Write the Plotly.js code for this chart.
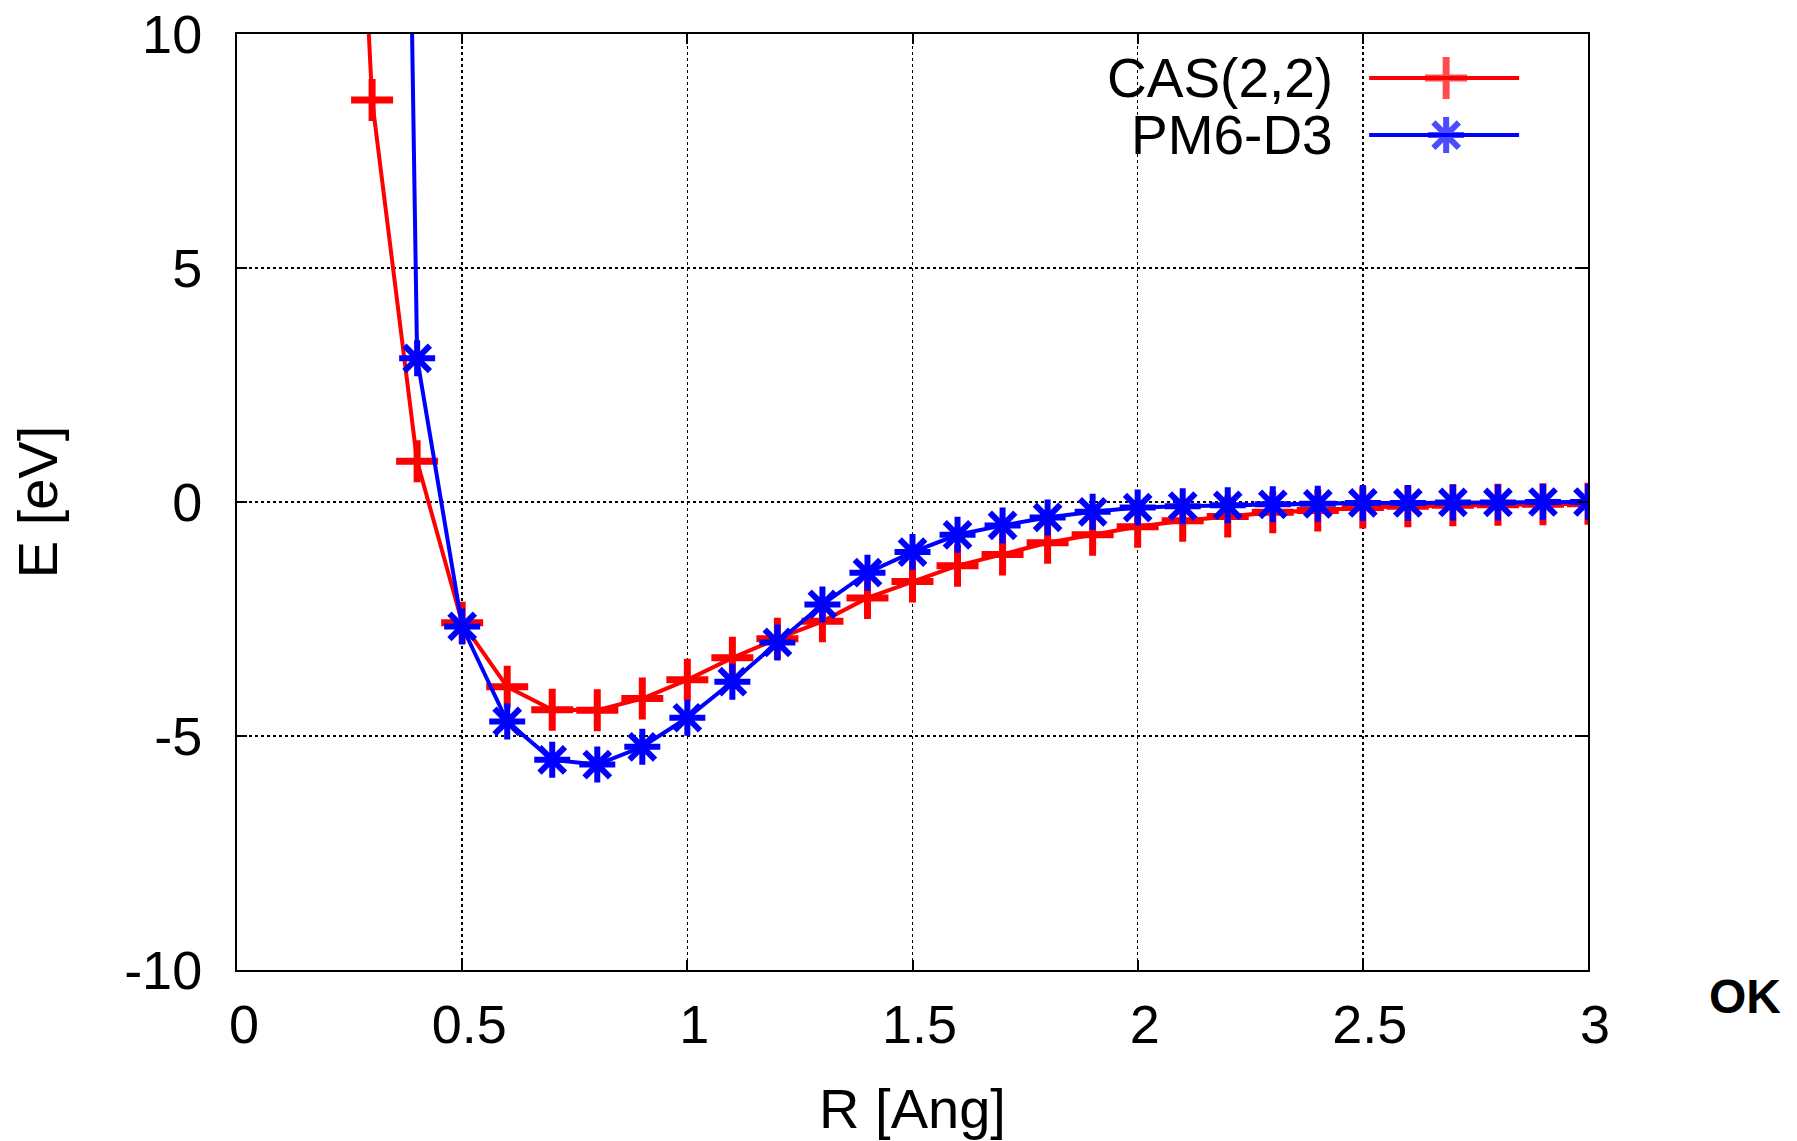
<!DOCTYPE html>
<html>
<head>
<meta charset="utf-8">
<script src="https://cdn.plot.ly/plotly-3.0.1.min.js"></script>
<style>html,body{margin:0;padding:0;background:#fff;}#chart{width:1797px;height:1141px;}</style>
</head>
<body>
<div id="chart"></div>
<script>
// ---- data ----
const R_cas = [0.2,0.3,0.4,0.5,0.6,0.7,0.8,0.9,1.0,1.1,1.2,1.3,1.4,1.5,1.6,1.7,1.8,1.9,2.0,2.1,2.2,2.3,2.4,2.5,2.6,2.7,2.8,2.9,3.0];
const E_cas = [28,8.59,0.87,-2.58,-3.95,-4.44,-4.45,-4.20,-3.80,-3.33,-2.92,-2.55,-2.05,-1.70,-1.36,-1.12,-0.87,-0.70,-0.53,-0.40,-0.31,-0.22,-0.18,-0.12,-0.09,-0.07,-0.06,-0.05,-0.04];
const R_pm6 = [0.3,0.4,0.5,0.6,0.7,0.8,0.9,1.0,1.1,1.2,1.3,1.4,1.5,1.6,1.7,1.8,1.9,2.0,2.1,2.2,2.3,2.4,2.5,2.6,2.7,2.8,2.9,3.0];
const E_pm6 = [65,3.07,-2.66,-4.69,-5.51,-5.61,-5.23,-4.61,-3.84,-3.00,-2.19,-1.51,-1.07,-0.70,-0.50,-0.33,-0.21,-0.12,-0.09,-0.07,-0.05,-0.04,-0.02,-0.02,-0.01,-0.01,0,0];
const seriesNames = ["CAS(2,2)","PM6-D3"];
const xTicks = [0,0.5,1,1.5,2,2.5,3];
const xTickText = ["0","0.5","1","1.5","2","2.5","3"];
const yTicks = [-10,-5,0,5,10];
const yTickText = ["-10","-5","0","5","10"];

const RED = "#ff0000", BLUE = "#0000ff";
const FONT = "Liberation Sans, Arial, sans-serif";

// legend sample geometry (on hidden overlay axes spanning the plot area 0..1)
const legX = [0.838, 0.895, 0.949];
const legY = [0.953, 0.892];

const crossMarker = {symbol:"cross-thin-open", size:30, color:RED, line:{color:RED, width:7}};
const starMarker = {symbol:"asterisk-open", size:30, color:BLUE, line:{color:BLUE, width:6}};

const traces = [
  {x:R_cas, y:E_cas, name:seriesNames[0], mode:"lines+markers", showlegend:false,
   line:{color:RED, width:4}, marker:crossMarker},
  {x:R_pm6, y:E_pm6, name:seriesNames[1], mode:"lines+markers", showlegend:false,
   line:{color:BLUE, width:4}, marker:starMarker},
  // manual legend samples (text left, sample right, as in the reference)
  {x:legX, y:[legY[0],legY[0],legY[0]], xaxis:"x2", yaxis:"y2", mode:"lines+markers", showlegend:false, hoverinfo:"skip",
   line:{color:RED, width:4}, marker:Object.assign({}, crossMarker, {size:[0,30,0]})},
  {x:legX, y:[legY[1],legY[1],legY[1]], xaxis:"x2", yaxis:"y2", mode:"lines+markers", showlegend:false, hoverinfo:"skip",
   line:{color:BLUE, width:4}, marker:Object.assign({}, starMarker, {size:[0,30,0]})}
];

const axisCommon = {
  showline:true, linecolor:"#000", linewidth:2, mirror:"ticks",
  ticks:"inside", ticklen:10, tickwidth:2, tickcolor:"#000",
  showgrid:true, gridcolor:"#000", gridwidth:1.5, griddash:"3px,3px",
  zeroline:false, tickfont:{family:FONT, size:54, color:"#000"}
};

const layout = {
  width:1797, height:1141,
  margin:{l:237, r:209, t:34, b:171},
  paper_bgcolor:"#fff", plot_bgcolor:"#fff",
  showlegend:false,
  font:{family:FONT, color:"#000"},
  xaxis:Object.assign({}, axisCommon, {
    range:[0,3], tickmode:"array", tickvals:xTicks, ticktext:xTickText,
    ticklabelstandoff:6, ticklabelshift:7,
    title:{text:"R [Ang]", font:{family:FONT, size:56, color:"#000"}, standoff:36}
  }),
  yaxis:Object.assign({}, axisCommon, {
    range:[-10,10], tickmode:"array", tickvals:yTicks, ticktext:yTickText,
    ticklabelstandoff:22,
    title:{text:"E [eV]", font:{family:FONT, size:56, color:"#000"}, standoff:49}
  }),
  xaxis2:{overlaying:"x", range:[0,1], visible:false, fixedrange:true},
  yaxis2:{overlaying:"y", range:[0,1], visible:false, fixedrange:true},
  annotations:[
    {text:seriesNames[0], xref:"paper", yref:"paper", x:0.813, y:legY[0], xanchor:"right", yanchor:"middle",
     showarrow:false, font:{family:FONT, size:55, color:"#000"}},
    {text:seriesNames[1], xref:"paper", yref:"paper", x:0.813, y:legY[1], xanchor:"right", yanchor:"middle",
     showarrow:false, font:{family:FONT, size:55, color:"#000"}},
    {text:"<b>OK</b>", xref:"paper", yref:"paper", x:1.116, y:-0.028, xanchor:"center", yanchor:"middle",
     showarrow:false, font:{family:FONT, size:48, color:"#000"}}
  ]
};

Plotly.newPlot("chart", traces, layout, {displayModeBar:false, staticPlot:true});
</script>
</body>
</html>
